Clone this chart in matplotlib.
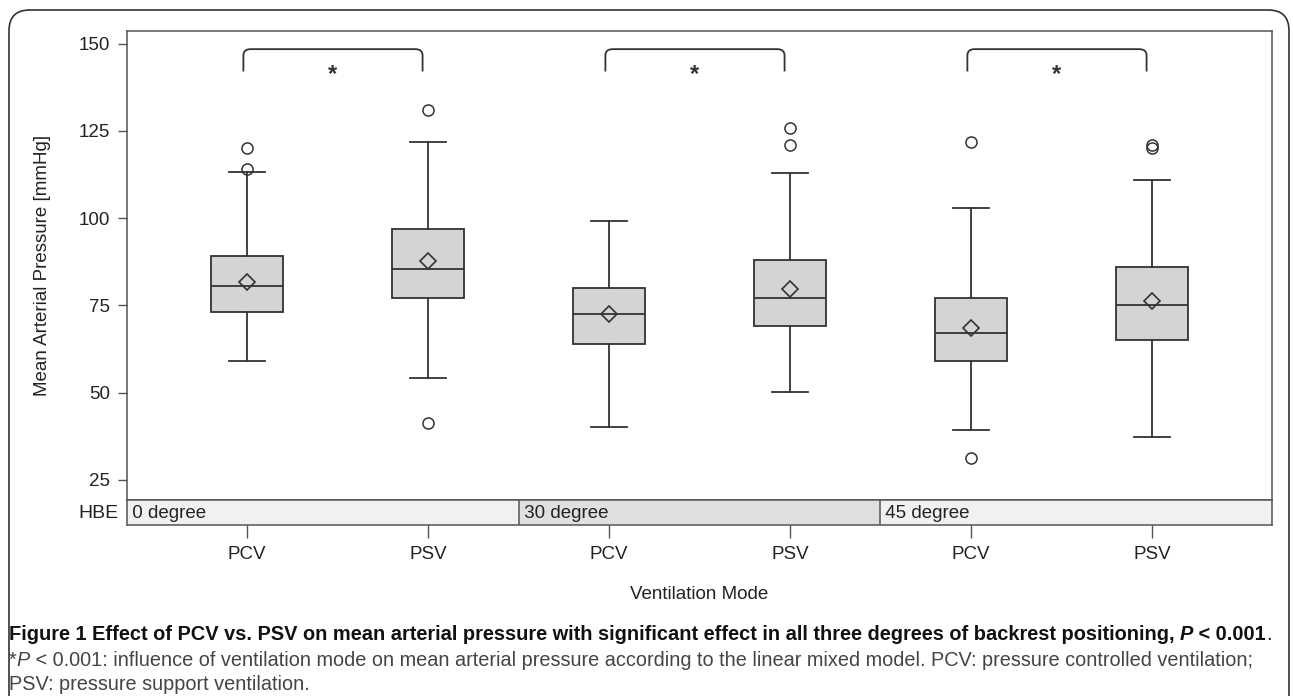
import matplotlib
matplotlib.use("Agg")
import matplotlib.pyplot as plt
from matplotlib import font_manager
from matplotlib.patches import FancyBboxPatch, PathPatch
from matplotlib.path import Path

# data (mmHg)
groups = ["0 degree", "30 degree", "45 degree"]
modes = ["PCV", "PSV", "PCV", "PSV", "PCV", "PSV"]
q1 = [73.2, 77.1, 64.0, 69.0, 59.1, 65.0]
med = [80.6, 85.5, 72.6, 77.1, 67.1, 75.2]
q3 = [89.1, 96.9, 80.0, 88.0, 77.2, 86.0]
whislo = [59.0, 54.2, 40.0, 50.1, 39.2, 37.3]
whishi = [113.1, 121.9, 99.1, 113.0, 103.0, 110.9]
means = [81.7, 87.7, 72.6, 79.7, 68.4, 76.2]
fliers = [[120.0, 114.0], [131.0, 41.3], [], [125.9, 120.8], [121.9, 31.1], [120.9, 120.0]]
yticks = [25, 50, 75, 100, 125, 150]

names = {f.name for f in font_manager.fontManager.ttflist}
cap_font = "Liberation Sans Narrow" if "Liberation Sans Narrow" in names else "Liberation Sans"
plt.rcParams['font.family'] = ['Liberation Sans', 'DejaVu Sans']

fig = plt.figure(figsize=(12.93, 6.96), dpi=100)
W, H = 1293, 696

def fx(px):
    return px / W

def fy(py):
    return 1 - py / H

ax = fig.add_axes([fx(127), fy(500), fx(1272) - fx(127), fy(31) - fy(500)])
strip = fig.add_axes([fx(127), fy(525), fx(1272) - fx(127), fy(500) - fy(525)], sharex=ax)

edge = "#333333"
stats = []
for i in range(len(modes)):
    stats.append(dict(q1=q1[i], med=med[i], q3=q3[i], whislo=whislo[i], whishi=whishi[i],
                      mean=means[i], fliers=fliers[i], label=modes[i]))

pos = list(range(len(modes)))
ax.bxp(stats, positions=pos, widths=0.4, capwidths=0.2, showmeans=True, patch_artist=True,
       boxprops=dict(facecolor="#d3d4d6", edgecolor=edge, linewidth=1.3),
       medianprops=dict(color=edge, linewidth=1.3),
       whiskerprops=dict(color=edge, linewidth=1.3),
       capprops=dict(color=edge, linewidth=1.3),
       meanprops=dict(marker="D", markerfacecolor="none", markeredgecolor=edge,
                      markersize=8, markeredgewidth=1.2),
       flierprops=dict(marker="o", markerfacecolor="none", markeredgecolor=edge,
                       markersize=8, markeredgewidth=1.1))

ax.set_xlim(-0.663, 5.663)
ax.set_ylim(19.2, 153.6)
ax.set_yticks(yticks)
ax.tick_params(axis="y", length=6.5, width=1, color="#555555", labelsize=13.5, pad=5.5,
               labelcolor="#222222")
ax.tick_params(axis="x", bottom=False, labelbottom=False)
for s in ax.spines.values():
    s.set_color("#555555")
    s.set_linewidth(1.1)
ax.set_ylabel("Mean Arterial Pressure [mmHg]", fontsize=13.5, color="#222222", labelpad=20)

# significance brackets
for g in range(3):
    x0 = 2 * g - 0.02
    x1 = 2 * g + 0.97
    verts = [(x0, 142.0), (x0, 146.6), (x0, 148.4), (x0 + 0.04, 148.4),
             (x1 - 0.04, 148.4), (x1, 148.4), (x1, 146.6), (x1, 142.0)]
    codes = [Path.MOVETO, Path.LINETO, Path.CURVE3, Path.CURVE3,
             Path.LINETO, Path.CURVE3, Path.CURVE3, Path.LINETO]
    ax.add_patch(PathPatch(Path(verts, codes), fill=False, edgecolor=edge, linewidth=1.3))
    ax.text((x0 + x1) / 2, 141.0, "*", ha="center", va="center", fontsize=17,
            fontweight="bold", color=edge)

# HBE strip
strip_colors = ["#f0f1f1", "#dfe0e1", "#f0f1f1"]
for g in range(3):
    strip.axvspan(2 * g - 0.5 if g > 0 else -0.663, 2 * g + 1.5 if g < 2 else 5.663,
                  color=strip_colors[g], lw=0)
    strip.text(2 * g - 0.5 if g > 0 else -0.663, 0.45, " " + groups[g], ha="left",
               va="center", fontsize=13.5, color="#222222")
for xs in [1.5, 3.5]:
    strip.axvline(xs, color="#555555", lw=1.1)
strip.set_ylim(0, 1)
strip.set_yticks([])
strip.set_xticks(pos)
strip.set_xticklabels(modes)
strip.tick_params(axis="x", length=9, width=1, color="#555555", labelsize=13.5, pad=6,
                  labelcolor="#222222")
for s in strip.spines.values():
    s.set_color("#555555")
    s.set_linewidth(1.1)
strip.set_xlabel("Ventilation Mode", fontsize=13.5, color="#222222", labelpad=17)
fig.text(fx(119), fy(513), "HBE", ha="right", va="center", fontsize=14, color="#222222")

# outer rounded frame
frame = FancyBboxPatch((fx(9), -0.05), fx(1289) - fx(9), fy(10) + 0.05,
                       boxstyle="round,pad=0,rounding_size=0.016",
                       transform=fig.transFigure, fill=False, edgecolor="#333333",
                       linewidth=1.2, mutation_aspect=W / H)
fig.patches.append(frame)

# caption, drawn piece by piece
renderer = fig.canvas.get_renderer()

def line(pieces, y, size, color):
    x = fx(9)
    for txt, weight, style in pieces:
        t = fig.text(x, y, txt, ha="left", va="center", fontsize=size, color=color,
                     family=cap_font, fontweight=weight, fontstyle=style)
        bb = t.get_window_extent(renderer)
        x += bb.width / W

line([("Figure 1 Effect of PCV vs. PSV on mean arterial pressure with significant effect "
       "in all three degrees of backrest positioning, ", "bold", "normal"),
      ("P", "bold", "italic"), (" < 0.001", "bold", "normal"), (".", "normal", "normal")],
     fy(635), 14.4, "#111111")
line([("*", "normal", "normal"), ("P", "normal", "italic"),
      (" < 0.001: influence of ventilation mode on mean arterial pressure according to the "
       "linear mixed model. PCV: pressure controlled ventilation;", "normal", "normal")],
     fy(660), 14.3, "#444444")
line([("PSV: pressure support ventilation.", "normal", "normal")], fy(684), 14.3, "#444444")

fig.savefig("out.png", dpi=100)
